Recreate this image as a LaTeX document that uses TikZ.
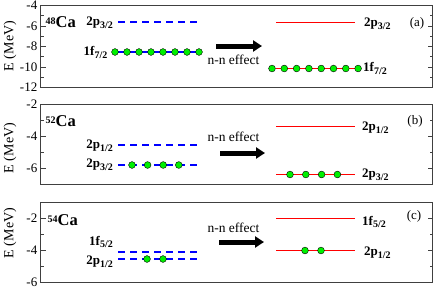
\documentclass[tikz,border=0pt]{standalone}
\usepackage{fontspec}
\setmainfont{Liberation Serif}
\usetikzlibrary{positioning,arrows.meta}

\definecolor{levelblue}{RGB}{0,0,255}
\definecolor{levelred}{RGB}{255,0,0}
\definecolor{nucgreen}{RGB}{0,240,0}

\tikzset{
  frame/.style={draw=black!75, line width=1pt},
  oldlevel/.style={draw=levelblue, line width=2pt, dash pattern=on 7pt off 5pt},
  oldfull/.style={draw=levelblue, line width=2pt},
  newlevel/.style={draw=levelred, line width=1pt},
  nucleon/.style={circle, draw=black, fill=nucgreen, line width=0.4pt, inner sep=0pt, minimum size=6.8pt},
  nnarrow/.style={-{Triangle[length=9pt,width=11pt]}, line width=5pt, draw=black},
  lvllabel/.style={font=\fontsize{13}{13}\selectfont\bfseries, inner sep=0pt},
  ticklabel/.style={font=\fontsize{13}{13}\selectfont, anchor=east, inner sep=0pt},
  axislabel/.style={font=\fontsize{14}{14}\selectfont, rotate=90, inner sep=0pt},
  effect/.style={font=\fontsize{13.5}{14}\selectfont, inner sep=0pt},
  panellabel/.style={font=\fontsize{13}{13}\selectfont, inner sep=0pt},
  isotope/.style={anchor=west, inner sep=0pt}
}

% orbital label with subscript, isotope label
\newcommand{\orb}[2]{#1\raisebox{-0.45ex}{\fontsize{10}{10}\selectfont #2}}
\newcommand{\nucl}[1]{\raisebox{0.6ex}{\fontsize{10}{10}\selectfont\bfseries #1}\fontsize{16.5}{16.5}\selectfont\bfseries Ca}
% frame: top, bottom, px per MeV, energy at top, labelled ticks, small ticks
\newcommand{\energyaxis}[6]{%
  \draw[frame] (40.5,#1) rectangle (432.5,#2);
  \foreach \e in {#5} {
    \pgfmathsetmacro\tickpos{#1+(#4-\e)*#3}
    \draw[frame] (40.5,\tickpos) -- ++(5,0) (432.5,\tickpos) -- ++(-5,0);
    \node[ticklabel] at (37.5,\tickpos) {\e};
  }
  \foreach \e in {#6} {
    \pgfmathsetmacro\tickpos{#1+(#4-\e)*#3}
    \draw[frame] (40.5,\tickpos) -- ++(3,0) (432.5,\tickpos) -- ++(-3,0);
  }
}

\begin{document}
\begin{tikzpicture}[x=1pt,y=-1pt]
  \useasboundingbox (0,0) rectangle (436,290);

  % (a) 48Ca
  \energyaxis{5.5}{87.5}{10.25}{-4}{-4,-6,-8,-10,-12}{-5,-7,-9,-11}
  \node[axislabel] (ea) at (10,46) {E (MeV)};
  \node[isotope] (ca48) at (45.5,22) {\nucl{48}};

  \draw[oldlevel] (118,22) -- (198,22);
  \node[lvllabel, anchor=east] (a-p32) at (113,22.4) {\orb{2p}{3/2}};
  \draw[oldfull] (118,52) -- (198,52);
  \foreach \i in {0,...,7} \node[nucleon] at (115+12*\i,52) {};
  \node[lvllabel, anchor=east] (a-f72) at (107.5,52.4) {\orb{1f}{7/2}};

  \coordinate (a-from) at (216,46);
  \coordinate (a-to) at (262,46);
  \draw[nnarrow] (a-from) -- (a-to);
  \node[effect] (a-nn) at (233.5,60) {n-n effect};

  \draw[newlevel] (276,22.5) -- (355,22.5);
  \node[lvllabel, anchor=west] (a-p32r) at (364,24) {\orb{2p}{3/2}};
  \draw[newlevel] (276,68.5) -- (355,68.5);
  \foreach \i in {0,...,7} \node[nucleon] at (272+12.3*\i,68.5) {};
  \node[lvllabel, anchor=west] (a-f72r) at (363,68.5) {\orb{1f}{7/2}};
  \node[panellabel] (a-tag) at (417,23) {(a)};

  % (b) 52Ca
  \energyaxis{104.5}{184.5}{16}{-2}{-2,-4,-6}{-3,-5}
  \node[axislabel] (eb) at (10,148) {E (MeV)};
  \node[isotope] (ca52) at (45.5,121) {\nucl{52}};

  \draw[oldlevel] (118,145) -- (198,145);
  \node[lvllabel, anchor=east] (b-p12) at (113,146) {\orb{2p}{1/2}};
  \draw[oldlevel] (118,165) -- (198,165);
  \foreach \i in {0,...,3} \node[nucleon] at (132+15.6*\i,165) {};
  \node[lvllabel, anchor=east] (b-p32) at (113,165) {\orb{2p}{3/2}};

  \coordinate (b-from) at (220,153);
  \coordinate (b-to) at (265,153);
  \draw[nnarrow] (b-from) -- (b-to);
  \node[effect] (b-nn) at (233.5,137) {n-n effect};

  \draw[newlevel] (276,126.5) -- (355,126.5);
  \node[lvllabel, anchor=west] (b-p12r) at (362,128) {\orb{2p}{1/2}};
  \draw[newlevel] (276,174.5) -- (355,174.5);
  \foreach \i in {0,...,3} \node[nucleon] at (290+15.8*\i,174.5) {};
  \node[lvllabel, anchor=west] (b-p32r) at (362,175) {\orb{2p}{3/2}};
  \node[panellabel] (b-tag) at (415,121) {(b)};

  % (c) 54Ca
  \energyaxis{202.5}{282.5}{16}{-1}{-2,-4,-6}{-3,-5}
  \node[axislabel] (ec) at (10,233) {E (MeV)};
  \node[isotope] (ca54) at (47.5,220) {\nucl{54}};

  \draw[oldlevel] (118,252) -- (198,252);
  \node[lvllabel, anchor=east] (c-f52) at (113,242) {\orb{1f}{5/2}};
  \draw[oldlevel] (118,259) -- (198,259);
  \foreach \i in {0,1} \node[nucleon] at (147+16*\i,259) {};
  \node[lvllabel, anchor=east] (c-p12) at (113,262) {\orb{2p}{1/2}};

  \coordinate (c-from) at (219,242);
  \coordinate (c-to) at (264,242);
  \draw[nnarrow] (c-from) -- (c-to);
  \node[effect] (c-nn) at (233.5,228) {n-n effect};

  \draw[newlevel] (276,218.5) -- (355,218.5);
  \node[lvllabel, anchor=west] (c-f52r) at (362,222) {\orb{1f}{5/2}};
  \draw[newlevel] (276,250.5) -- (355,250.5);
  \foreach \i in {0,1} \node[nucleon] at (305+16*\i,250.5) {};
  \node[lvllabel, anchor=west] (c-p12r) at (364,253) {\orb{2p}{1/2}};
  \node[panellabel] (c-tag) at (414,216) {(c)};
\end{tikzpicture}
\end{document}
